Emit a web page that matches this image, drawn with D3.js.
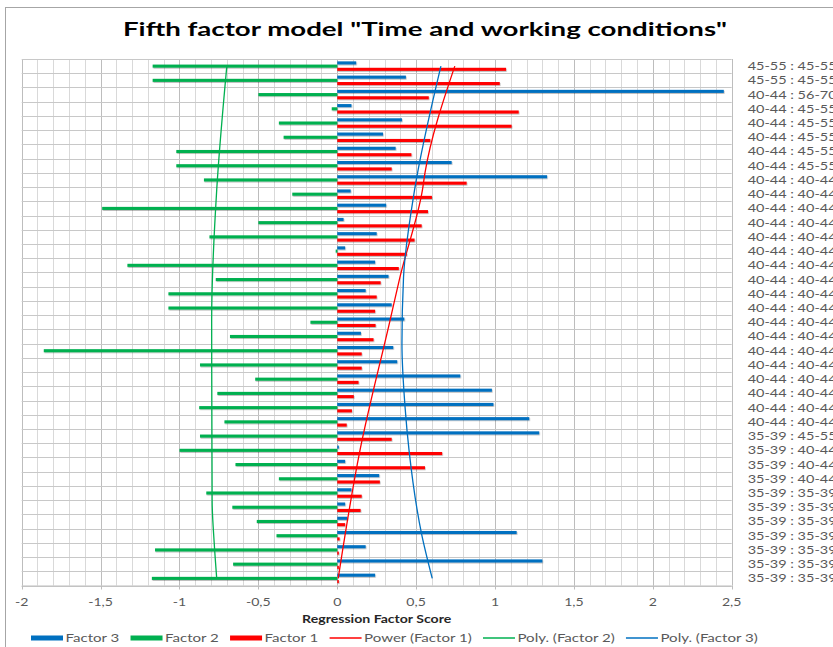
<!DOCTYPE html>
<html><head><meta charset="utf-8">
<script src="https://cdn.jsdelivr.net/npm/d3@7"></script>
<style>html,body{margin:0;padding:0;background:#fff;overflow:hidden}</style>
</head><body><svg id="c" width="833" height="647"></svg>
<script>
// ---------- DATA ----------
const categories = [
  "45-55 : 45-55","45-55 : 45-55","40-44 : 56-70",
  "40-44 : 45-55","40-44 : 45-55","40-44 : 45-55","40-44 : 45-55","40-44 : 45-55",
  "40-44 : 40-44","40-44 : 40-44","40-44 : 40-44","40-44 : 40-44","40-44 : 40-44","40-44 : 40-44",
  "40-44 : 40-44","40-44 : 40-44","40-44 : 40-44","40-44 : 40-44","40-44 : 40-44","40-44 : 40-44",
  "40-44 : 40-44","40-44 : 40-44","40-44 : 40-44","40-44 : 40-44","40-44 : 40-44","40-44 : 40-44",
  "35-39 : 45-55","35-39 : 40-44","35-39 : 40-44","35-39 : 40-44",
  "35-39 : 35-39","35-39 : 35-39","35-39 : 35-39","35-39 : 35-39","35-39 : 35-39","35-39 : 35-39","35-39 : 35-39"
];
const factor3 = [0.12,0.435,2.45,0.09,0.41,0.29,0.37,0.725,1.33,0.085,0.31,0.04,0.25,0.05,0.24,0.325,0.18,0.345,
  0.425,0.15,0.355,0.38,0.78,0.98,0.99,1.217,1.28,0.01,0.05,0.266,0.09,0.05,0.065,1.137,0.18,1.30,0.24];
const factor2 = [-1.17,-1.17,-0.50,-0.035,-0.37,-0.34,-1.02,-1.02,-0.845,-0.285,-1.49,-0.50,-0.81,-0.01,-1.33,-0.77,-1.07,-1.07,
  -0.17,-0.68,-1.86,-0.87,-0.52,-0.76,-0.875,-0.715,-0.87,-1.00,-0.645,-0.37,-0.83,-0.665,-0.51,-0.385,-1.155,-0.66,-1.175];
const factor1 = [1.07,1.03,0.58,1.15,1.105,0.59,0.47,0.345,0.82,0.60,0.575,0.535,0.49,0.44,0.39,0.275,0.25,0.24,
  0.243,0.23,0.155,0.155,0.135,0.105,0.093,0.06,0.345,0.665,0.556,0.27,0.155,0.148,0.05,0.015,0.01,0.01,0.01];
const xTicks = [-2,-1.5,-1,-0.5,0,0.5,1,1.5,2,2.5];
const xTickLabels = ["-2","-1,5","-1","-0,5","0","0,5","1","1,5","2","2,5"];
// trendlines: [category position from top (1 = first), value]
const trendPower1 = [[1,0.745],[8.5,0.556],[9.7,0.54],[15.85,0.397],[18.9,0.334],[28,0.144],[37,0.006]];
const trendPoly2  = [[1,-0.70],[9.7,-0.764],[18.9,-0.796],[28,-0.794],[31.6,-0.793],[34.5,-0.78],[37,-0.764]];
const trendPoly3  = [[1,0.657],[9.7,0.49],[15.85,0.42],[20.5,0.41],[25,0.43],[28,0.455],[33.9,0.535],[37,0.602]];
const seriesNames = ["Factor 3","Factor 2","Factor 1"];
const seriesColors = ["#0070C0","#00B050","#FF0000"];
const trendNames = ["Power (Factor 1)","Poly. (Factor 2)","Poly. (Factor 3)"];
const trendColors = ["#FF0000","#00B050","#0070C0"];
const titleText = "Fifth factor model \"Time and working conditions\"";
const xAxisTitle = "Regression Factor Score";

// ---------- LAYOUT ----------
const FONT = "Lato, 'Open Sans', sans-serif";
const STRETCH = 1.28;
const plot = {left: 21.7, right: 731.7, top: 59, bottom: 585.5};
const svg = d3.select("#c");
svg.append("rect").attr("width",833).attr("height",647).attr("fill","#fff");
svg.append("rect").attr("x",5.5).attr("y",7.5).attr("width",900).attr("height",700)
  .attr("fill","none").attr("stroke","#a6a6a6").attr("stroke-width",1);

const defs = svg.append("defs");
const f = defs.append("filter").attr("id","sh").attr("x","-5%").attr("y","-100%").attr("width","110%").attr("height","300%");
f.append("feDropShadow").attr("dx",0.6).attr("dy",0.9).attr("stdDeviation",0.6)
  .attr("flood-color","#000").attr("flood-opacity",0.3);

const x = d3.scaleLinear().domain([-2,2.5]).range([plot.left, plot.right]);
const y = d3.scaleBand().domain(d3.range(categories.length)).range([plot.top, plot.bottom]);
const ySub = d3.scaleBand().domain(seriesNames).range([0, y.bandwidth()]).paddingInner(0.04).paddingOuter(0.74);
const yPos = d3.scaleLinear().domain([0.5, categories.length + 0.5]).range([plot.top, plot.bottom]);

function stretch(sel, k){
  sel.each(function(){
    const w = this.getComputedTextLength();
    this.setAttribute("textLength", w * k);
    this.setAttribute("lengthAdjust", "spacingAndGlyphs");
  });
}

// gridlines
const minor = d3.range(-20, 26).map(i => i / 10);
const g = svg.append("g");
g.selectAll("line.v").data(minor).join("line")
  .attr("x1", d => Math.round(x(d)) + 0.5).attr("x2", d => Math.round(x(d)) + 0.5)
  .attr("y1", plot.top).attr("y2", plot.bottom)
  .attr("stroke", d => Math.abs(d * 2 - Math.round(d * 2)) < 1e-6 ? "#bdbdbd" : "#d9d9d9")
  .attr("stroke-width", 1);
g.selectAll("line.h").data(d3.range(categories.length + 1)).join("line")
  .attr("x1", plot.left).attr("x2", plot.right)
  .attr("y1", d => Math.round(yPos(d + 0.5)) + 0.5).attr("y2", d => Math.round(yPos(d + 0.5)) + 0.5)
  .attr("stroke", "#c8c8c8").attr("stroke-width", 1);

// bars
const series = [factor3, factor2, factor1];
const bars = svg.append("g").attr("filter","url(#sh)");
series.forEach((vals, si) => {
  bars.selectAll(null).data(vals).join("rect")
    .attr("x", d => x(Math.min(0, d)))
    .attr("width", d => Math.abs(x(d) - x(0)))
    .attr("y", (d, i) => y(i) + ySub(seriesNames[si]))
    .attr("height", ySub.bandwidth())
    .attr("fill", seriesColors[si]);
});

// trendlines
const line = d3.line().x(d => x(d[1])).y(d => yPos(d[0])).curve(d3.curveMonotoneY);
[trendPower1, trendPoly2, trendPoly3].forEach((t, i) => {
  svg.append("path").attr("d", line(t)).attr("fill","none")
    .attr("stroke", trendColors[i]).attr("stroke-width", 1.3);
});

// x axis
const ax = svg.append("g");
ax.append("line").attr("x1",plot.left).attr("x2",plot.right)
  .attr("y1",plot.bottom+0.5).attr("y2",plot.bottom+0.5).attr("stroke","#bdbdbd");
ax.selectAll("line.t").data(xTicks).join("line")
  .attr("x1", d => Math.round(x(d)) + 0.5).attr("x2", d => Math.round(x(d)) + 0.5)
  .attr("y1", plot.bottom).attr("y2", plot.bottom + 4).attr("stroke","#bdbdbd");
const tl = ax.selectAll("text").data(xTicks).join("text")
  .attr("x", d => x(d)).attr("y", 602).attr("dy","0.35em")
  .attr("text-anchor","middle").attr("font-family",FONT).attr("font-size",11)
  .attr("fill","#595959").text((d, i) => xTickLabels[i]);
stretch(tl, STRETCH);

const at = svg.append("text").attr("x",(plot.left+plot.right)/2).attr("y",619).attr("dy","0.35em")
  .attr("text-anchor","middle").attr("font-family",FONT).attr("font-weight","bold")
  .attr("font-size",11).attr("fill","#262626").text(xAxisTitle);
stretch(at, STRETCH);

// category labels (right side)
const cl = svg.append("g").selectAll("text").data(categories).join("text")
  .attr("x", 747.7).attr("y", (d, i) => y(i) + y.bandwidth() / 2).attr("dy","0.35em")
  .attr("font-family",FONT).attr("font-size",11.3).attr("fill","#595959").text(d => d);
stretch(cl, 1.28);

// title
const tt = svg.append("text").attr("x",425).attr("y",35.5)
  .attr("text-anchor","middle").attr("font-family",FONT).attr("font-weight","bold")
  .attr("font-size",19).attr("fill","#000").text(titleText);
tt.attr("textLength", 604).attr("lengthAdjust","spacingAndGlyphs");

// legend
const legendItems = seriesNames.map((n, i) => ({name: n, color: seriesColors[i], type: "rect"}))
  .concat(trendNames.map((n, i) => ({name: n, color: trendColors[i], type: "line"})));
let lx = 31;
const ly = 638;
legendItems.forEach(it => {
  if (it.type === "rect") {
    svg.append("rect").attr("x", lx).attr("y", ly - 2.5).attr("width", 32).attr("height", 5).attr("fill", it.color);
  } else {
    svg.append("line").attr("x1", lx).attr("x2", lx + 32).attr("y1", ly).attr("y2", ly)
      .attr("stroke", it.color).attr("stroke-width", 1.5);
  }
  const t = svg.append("text").attr("x", lx + 34.5).attr("y", ly).attr("dy","0.35em")
    .attr("font-family",FONT).attr("font-size",11.6).attr("fill","#595959").text(it.name);
  stretch(t, 1.3);
  lx = lx + 34.5 + t.node().getComputedTextLength() + 11.2;
});
</script></body></html>
